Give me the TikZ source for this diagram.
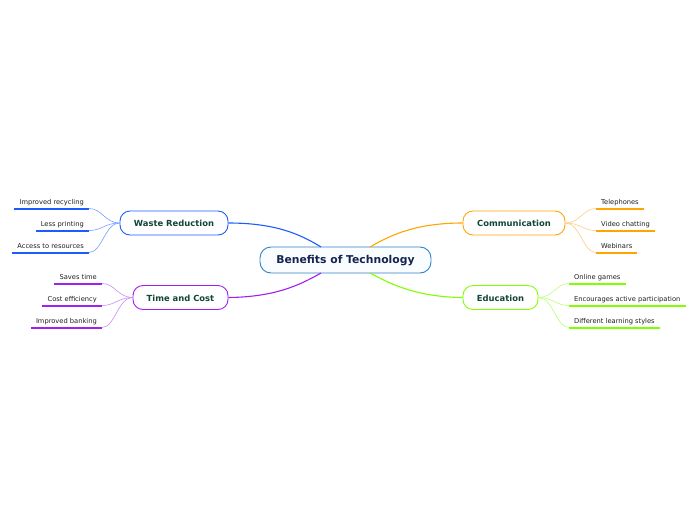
\documentclass[tikz,border=0pt]{standalone}
\usepackage{fontspec}
\setmainfont{DejaVu Sans}
\definecolor{cblue}{RGB}{28,92,255}
\definecolor{lblue}{RGB}{120,160,255}
\definecolor{cpurp}{RGB}{160,32,240}
\definecolor{lpurp}{RGB}{205,140,250}
\definecolor{corng}{RGB}{255,165,0}
\definecolor{lorng}{RGB}{255,205,130}
\definecolor{cgrn}{RGB}{128,255,0}
\definecolor{lgrn}{RGB}{185,255,120}
\definecolor{cbord}{RGB}{50,130,200}
\definecolor{cfill}{RGB}{250,253,255}
\definecolor{tgrn}{RGB}{16,70,55}
\definecolor{tnavy}{RGB}{20,35,80}
\definecolor{ttxt}{RGB}{30,30,30}
\tikzset{
  centerbox/.style={draw=cbord, line width=0.9pt, fill=cfill, rounded corners=11pt, minimum width=171pt, minimum height=26pt, inner sep=0pt, text height=0.75em, text depth=0pt, font=\fontsize{10.8}{12}\selectfont\bfseries, text=tnavy},
  branchbox/.style={line width=0.9pt, fill=white, rounded corners=10pt, minimum height=24pt, inner sep=0pt, text height=0.75em, text depth=0pt, font=\fontsize{8.4}{10}\selectfont\bfseries, text=tgrn},
  leafbox/.style={inner xsep=5pt, inner ysep=2.5pt, text height=5pt, text depth=1.5pt, font=\fontsize{6.7}{7}\selectfont, text=ttxt},
  underl/.style={line width=2pt},
  mainlink/.style={line width=1.1pt},
  leaflink/.style={line width=0.6pt},
}
\begin{document}
\begin{tikzpicture}[x=1pt,y=-1pt]
\useasboundingbox (0,0) rectangle (696,520);
% center
\node[centerbox] (c) at (345.5,260) {Benefits of Technology};
% branches
\node[branchbox, draw=cblue, minimum width=108pt] (w) at (174,223) {Waste Reduction};
\node[branchbox, draw=cpurp, minimum width=95pt] (t) at (180.5,297.5) {Time and Cost};
\node[branchbox, draw=corng, minimum width=102pt] (m) at (514,223) {Communication};
\node[branchbox, draw=cgrn, minimum width=75pt] (e) at (500.5,297.5) {Education};
% main links
\coordinate (cw) at (321,247);
\coordinate (cm) at (370,247);
\coordinate (ct) at (321,273);
\coordinate (ce) at (370,273);
\draw[mainlink, draw=cblue] (w.east) .. controls (275,223) and (300,234) .. (cw);
\draw[mainlink, draw=corng] (m.west) .. controls (418,223) and (392,234) .. (cm);
\draw[mainlink, draw=cpurp] (t.east) .. controls (275,297) and (300,285) .. (ct);
\draw[mainlink, draw=cgrn] (e.west) .. controls (418,297) and (392,285) .. (ce);
% waste leaves
\node[leafbox, anchor=south east] (w1) at (89,208.5) {Improved recycling};
\node[leafbox, anchor=south east] (w2) at (89,230.5) {Less printing};
\node[leafbox, anchor=south east] (w3) at (89,252.5) {Access to resources};
\foreach \n in {w1,w2,w3} {
  \draw[underl, draw=cblue] (\n.south west) -- (\n.south east);
  \draw[leaflink, draw=lblue] (w.west) .. controls (105,223) and (102,0|-\n.south) .. (\n.south east);
}
% time leaves
\node[leafbox, anchor=south east] (t1) at (102,283.5) {Saves time};
\node[leafbox, anchor=south east] (t2) at (102,305.5) {Cost efficiency};
\node[leafbox, anchor=south east] (t3) at (102,327.5) {Improved banking};
\foreach \n in {t1,t2,t3} {
  \draw[underl, draw=cpurp] (\n.south west) -- (\n.south east);
  \draw[leaflink, draw=lpurp] (t.west) .. controls (118,297.5) and (115,0|-\n.south) .. (\n.south east);
}
% communication leaves
\node[leafbox, anchor=south west] (m1) at (596,208.5) {Telephones};
\node[leafbox, anchor=south west] (m2) at (596,230.5) {Video chatting};
\node[leafbox, anchor=south west] (m3) at (596,252.5) {Webinars};
\foreach \n in {m1,m2,m3} {
  \draw[underl, draw=corng] (\n.south west) -- (\n.south east);
  \draw[leaflink, draw=lorng] (m.east) .. controls (580,223) and (583,0|-\n.south) .. (\n.south west);
}
% education leaves
\node[leafbox, anchor=south west] (e1) at (569,283.5) {Online games};
\node[leafbox, anchor=south west] (e2) at (569,305.5) {Encourages active participation};
\node[leafbox, anchor=south west] (e3) at (569,327.5) {Different learning styles};
\foreach \n in {e1,e2,e3} {
  \draw[underl, draw=cgrn] (\n.south west) -- (\n.south east);
  \draw[leaflink, draw=lgrn] (e.east) .. controls (553,297.5) and (556,0|-\n.south) .. (\n.south west);
}
\end{tikzpicture}
\end{document}
